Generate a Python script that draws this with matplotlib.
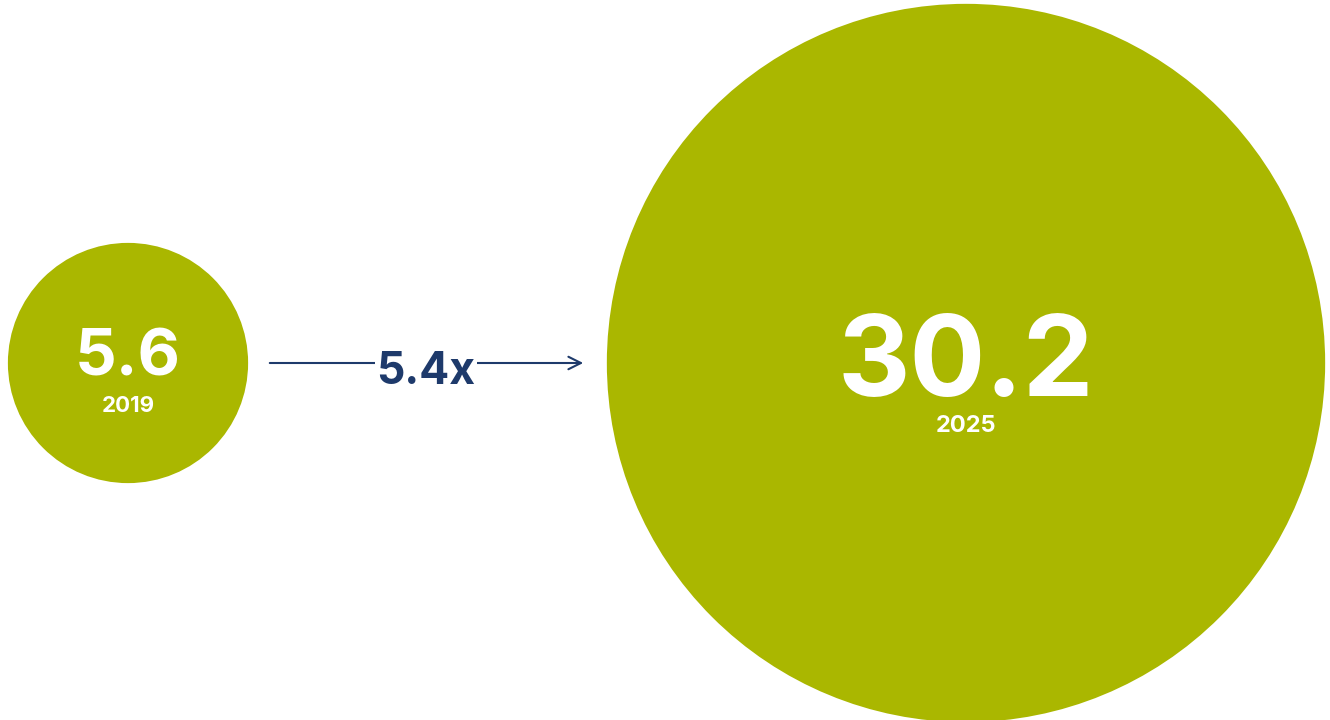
import matplotlib.pyplot as plt
from matplotlib.patches import Circle

# data
years = ['2019', '2025']
values = [5.6, 30.2]
growth_label = '5.4x'

green = '#aab700'
navy = '#1e3a6b'
font = 'Inter'

fig = plt.figure(figsize=(13.3, 7.2), dpi=100)
ax = fig.add_axes([0, 0, 1, 1])
ax.set_xlim(0, 1330)
ax.set_ylim(720, 0)
ax.set_aspect('equal')
ax.axis('off')

cx = [128, 966]  # circle centres (px)
cy = 363
num_base = [375, 396]   # baseline of big number
num_size = [47, 81]
year_base = [412, 432]
year_size = [16, 17]

for i in range(len(values)):
    r = 39.2 * values[i] ** 0.65  # radius from value
    ax.add_patch(Circle((cx[i], cy), r, color=green, lw=0))
    ax.text(cx[i], num_base[i], f'{values[i]:.1f}', color='white', fontsize=num_size[i],
            fontweight='bold', family=font, ha='center', va='baseline')
    ax.text(cx[i], year_base[i], years[i], color='white', fontsize=year_size[i],
            fontweight='bold', family=font, ha='center', va='baseline')

# arrow with growth label
ax.annotate('', xy=(586, cy), xytext=(267, cy),
            arrowprops=dict(arrowstyle='->,head_length=0.9,head_width=0.45', color=navy, lw=1.5))
ax.text(426, 384, growth_label, color=navy, fontsize=32, fontweight='bold', family=font,
        ha='center', va='baseline',
        bbox=dict(facecolor='white', edgecolor='none', pad=1))

fig.savefig('out.png', dpi=100)
